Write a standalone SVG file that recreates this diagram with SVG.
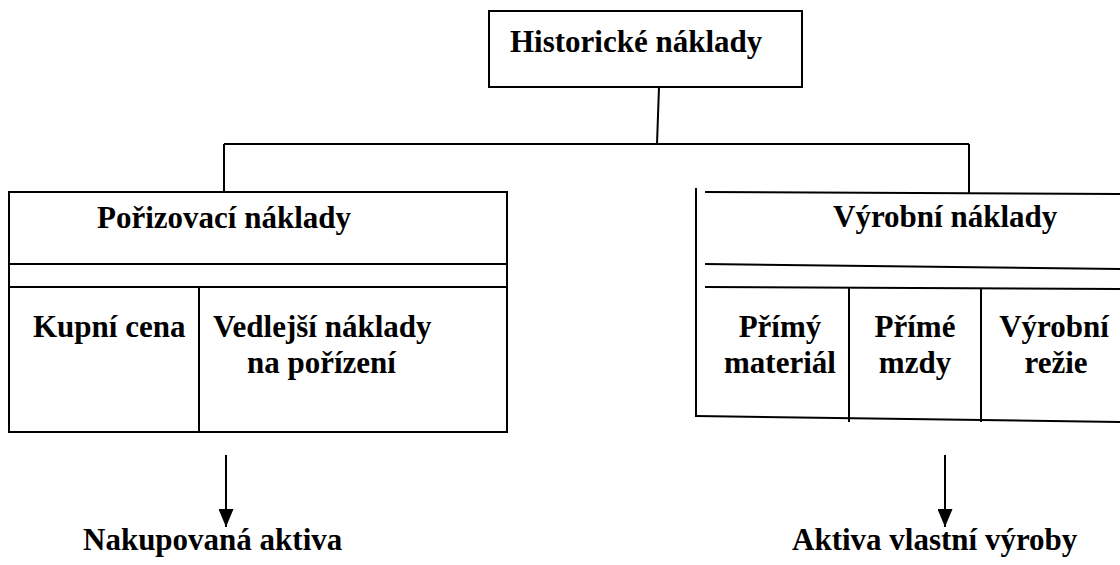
<svg xmlns="http://www.w3.org/2000/svg" width="1120" height="565" viewBox="0 0 1120 565">
  <defs>
    <marker id="arrow" viewBox="0 0 18 15" refX="18" refY="7.5" markerWidth="18" markerHeight="15" markerUnits="userSpaceOnUse" orient="auto">
      <path d="M0,0 L18,7.5 L0,15 Z" fill="#000"/>
    </marker>
    <style>
      .ln { stroke: #000; stroke-width: 2; fill: none; }
      .box { stroke: #000; stroke-width: 2; fill: #fff; }
      text { font-family: 'Liberation Serif', 'Times New Roman', 'DejaVu Serif', serif; font-weight: 700; font-size: 31px; fill: #000; }
      .c { text-anchor: middle; }
    </style>
  </defs>
  <rect width="1120" height="565" fill="#fff"/>

  <!-- tree connectors and result arrows -->
  <g id="connectors">
    <line class="ln" x1="659" y1="87" x2="657" y2="144"/>
    <line class="ln" x1="224" y1="144" x2="969" y2="144"/>
    <line class="ln" x1="224" y1="144" x2="224" y2="192"/>
    <line class="ln" x1="969" y1="144" x2="969" y2="193"/>
    <line class="ln" x1="226" y1="455" x2="226" y2="527" marker-end="url(#arrow)"/>
    <line class="ln" x1="945" y1="455" x2="945" y2="527" marker-end="url(#arrow)"/>
  </g>

  <!-- root -->
  <g id="historicke">
    <rect class="box" x="489" y="11" width="313" height="76"/>
    <text x="510" y="52">Historické náklady</text>
  </g>

  <!-- acquisition costs table -->
  <g id="porizovaci">
    <rect class="box" x="9" y="192" width="498" height="240"/>
    <line class="ln" x1="9" y1="264" x2="507" y2="264"/>
    <line class="ln" x1="9" y1="287" x2="507" y2="287"/>
    <line class="ln" x1="199" y1="287" x2="199" y2="432"/>
    <text x="97" y="228">Pořizovací náklady</text>
    <text x="33" y="337">Kupní cena</text>
    <text x="213" y="337">Vedlejší náklady</text>
    <text x="247" y="373">na pořízení</text>
  </g>

  <!-- production costs table (open on the right) -->
  <g id="vyrobni">
    <line class="ln" x1="696" y1="188" x2="696" y2="417"/>
    <line class="ln" x1="705" y1="192" x2="1120" y2="194"/>
    <line class="ln" x1="705" y1="264" x2="1120" y2="269"/>
    <line class="ln" x1="705" y1="287" x2="1120" y2="289"/>
    <line class="ln" x1="696" y1="416" x2="1120" y2="422"/>
    <line class="ln" x1="849" y1="287" x2="849" y2="422"/>
    <line class="ln" x1="981" y1="289" x2="981" y2="422"/>
    <text x="833" y="227">Výrobní náklady</text>
    <text class="c" x="780" y="337">Přímý</text>
    <text class="c" x="780" y="373">materiál</text>
    <text class="c" x="915" y="337">Přímé</text>
    <text class="c" x="915" y="373">mzdy</text>
    <text class="c" x="1054" y="337">Výrobní</text>
    <text class="c" x="1056" y="373">režie</text>
  </g>

  <!-- outcomes -->
  <g id="nakupovana">
    <text x="83" y="550">Nakupovaná aktiva</text>
  </g>
  <g id="vlastni">
    <text x="792" y="550">Aktiva vlastní výroby</text>
  </g>
</svg>
